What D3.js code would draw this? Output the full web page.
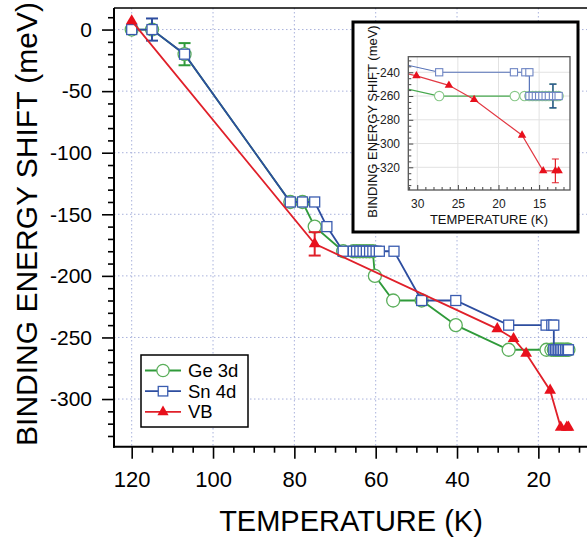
<!DOCTYPE html>
<html><head><meta charset="utf-8">
<script src="https://cdn.jsdelivr.net/npm/d3@7"></script>
<style>
body{margin:0;background:#fff;}
svg{display:block;font-family:"Liberation Sans",Arial,Helvetica,sans-serif;}
</style>
</head><body>
<svg id="c" width="587" height="538"></svg>
<script>
// ---------------- DATA ----------------
const seriesNames = ["Ge 3d", "Sn 4d", "VB"];

const tempGe  = [120, 115, 107, 81, 78, 75, 68, 65.5, 64.7, 63.9, 63.1, 62.3, 61.5, 60.7, 60.2, 55.7, 48.7, 40.3, 27.3,
                 18.0, 16.8, 16.2, 15.8, 15.4, 15.0, 14.6, 14.2, 13.8, 13.3, 12.9, 12.6];
const shiftGe = [0, 0, -20, -140, -140, -160, -180, -180, -180, -180, -180, -180, -180, -180, -200, -220, -220, -240, -260,
                 -260, -260, -260, -260, -260, -260, -260, -260, -260, -260, -260, -260];
const errGe   = [0, 0, 9, 0, 0, 0, 0, 0, 0, 0, 0, 0, 0, 0, 0, 0, 0, 0, 0,
                 0, 0, 0, 0, 0, 0, 0, 0, 0, 10, 0, 0];

const tempSn  = [120, 115, 107, 81, 78, 75, 72, 68, 65.5, 64.7, 63.9, 63.1, 62.3, 61.5, 60.7, 59.9, 59.1, 55.5, 48.7, 40.3,
                 27.3, 18.1, 16.7, 16.2, 16.2, 15.8, 15.4, 15.0, 14.6, 14.2, 13.8, 13.3, 12.9, 12.6];
const shiftSn = [0, 0, -20, -140, -140, -140, -160, -180, -180, -180, -180, -180, -180, -180, -180, -180, -180, -180, -220, -220,
                 -240, -240, -240, -240, -260, -260, -260, -260, -260, -260, -260, -260, -260, -260];
const errSn   = [0, 9, 0, 0, 0, 0, 0, 0, 0, 0, 0, 0, 0, 0, 0, 0, 0, 0, 0, 0,
                 0, 0, 0, 0, 0, 0, 0, 0, 0, 0, 0, 10, 0, 0];

const tempVB  = [120, 75, 30.1, 26.1, 23.0, 17.1, 14.5, 13.0, 12.6];
const shiftVB = [7, -174, -243, -251, -263, -293, -323, -323, -323];
const errVB   = [0, 9.5, 0, 0, 0, 0, 0, 10, 0];

const xTicks = [120, 100, 80, 60, 40, 20];
const yTicks = [0, -50, -100, -150, -200, -250, -300];
const insetXTicks = [30, 25, 20, 15];
const insetYTicks = [-240, -260, -280, -300, -320];

const xTitle = "TEMPERATURE (K)";
const yTitle = "BINDING ENERGY SHIFT (meV)";

// ---------------- SETUP ----------------
const svg = d3.select("#c");
const FONT = '"Liberation Sans",Arial,Helvetica,sans-serif';
const M = {left:114, right:590, top:8, bottom:446.7};
const x = d3.scaleLinear().domain([124.35, 7.3]).range([M.left, M.right]);
const y = d3.scaleLinear().domain([-338.7, 17.5]).range([M.bottom, M.top]);

const series = [
  {name: seriesNames[0], t: tempGe, v: shiftGe, e: errGe, marker: "circle",
   line: "#2f9a3a", mstroke: "#5aae5a", ilin: "#47a84e", imstroke: "#88c888"},
  {name: seriesNames[1], t: tempSn, v: shiftSn, e: errSn, marker: "square",
   line: "#2d4d9f", mstroke: "#3a5cb0", ilin: "#5672b8", imstroke: "#6f86c4"},
  {name: seriesNames[2], t: tempVB, v: shiftVB, e: errVB, marker: "triangle",
   line: "#e0202a", mstroke: "#e8101c", ilin: "#e23a44", imstroke: "#e8101c"}
];

function drawMarker(g, type, cx, cy, k, stroke, sw) {
  if (type === "circle") {
    g.append("circle").attr("cx", cx).attr("cy", cy).attr("r", 6.5 * k)
      .attr("fill", "#fff").attr("stroke", stroke).attr("stroke-width", sw);
  } else if (type === "square") {
    const s = 10 * k;
    g.append("rect").attr("x", cx - s / 2).attr("y", cy - s / 2).attr("width", s).attr("height", s)
      .attr("fill", "#fff").attr("stroke", stroke).attr("stroke-width", sw);
  } else {
    g.append("path").attr("d", d3.symbol(d3.symbolTriangle, 60 * k * k)())
      .attr("transform", `translate(${cx},${cy})`).attr("fill", stroke);
  }
}

// ---------------- GRID ----------------
const grid = svg.append("g");
grid.selectAll("line.gx").data(xTicks).join("line").attr("class", "gx")
  .attr("x1", d => x(d)).attr("x2", d => x(d)).attr("y1", M.top).attr("y2", M.bottom)
  .attr("stroke", "#a9b2dc").attr("stroke-width", 1).attr("stroke-dasharray", "1.5,2.5");
grid.selectAll("line.gy").data(yTicks).join("line").attr("class", "gy")
  .attr("y1", d => y(d)).attr("y2", d => y(d)).attr("x1", M.left).attr("x2", M.right)
  .attr("stroke", "#a9b2dc").attr("stroke-width", 1).attr("stroke-dasharray", "1.5,2.5");

// ---------------- AXES ----------------
const xMinor = d3.range(120, 7, -5).filter(v => !xTicks.includes(v));
const yMinor = d3.range(10, -340, -10).filter(v => !yTicks.includes(v));

function styleAxis(g, fs) {
  g.select(".domain").remove();
  g.selectAll(".tick line").attr("stroke", "#000").attr("stroke-width", 1.6);
  g.selectAll(".tick text").attr("fill", "#000").style("font-size", fs + "px").style("font-family", FONT);
}
svg.append("g").attr("transform", `translate(0,${M.bottom})`)
  .call(d3.axisBottom(x).tickValues(xMinor).tickSize(6).tickFormat(""))
  .call(g => styleAxis(g, 22));
svg.append("g").attr("transform", `translate(0,${M.bottom})`)
  .call(d3.axisBottom(x).tickValues(xTicks).tickSize(12).tickPadding(13).tickFormat(d => String(d)))
  .call(g => styleAxis(g, 22));
svg.append("g").attr("transform", `translate(${M.left},0)`)
  .call(d3.axisLeft(y).tickValues(yMinor).tickSize(6).tickFormat(""))
  .call(g => styleAxis(g, 21));
svg.append("g").attr("transform", `translate(${M.left},0)`)
  .call(d3.axisLeft(y).tickValues(yTicks).tickSize(12).tickPadding(10).tickFormat(d => String(d)))
  .call(g => styleAxis(g, 21));

// frame
svg.append("line").attr("x1", M.left).attr("x2", M.right).attr("y1", M.top).attr("y2", M.top)
  .attr("stroke", "#000").attr("stroke-width", 1.6);
svg.append("line").attr("x1", M.left).attr("x2", M.left).attr("y1", M.top).attr("y2", M.bottom + 1)
  .attr("stroke", "#000").attr("stroke-width", 2);
svg.append("line").attr("x1", M.left - 1).attr("x2", M.right).attr("y1", M.bottom).attr("y2", M.bottom)
  .attr("stroke", "#000").attr("stroke-width", 2);

// titles
svg.append("text").attr("x", 351).attr("y", 531).attr("text-anchor", "middle")
  .style("font-size", "29px").attr("fill", "#000").text(xTitle);
svg.append("text").attr("transform", "translate(37,224) rotate(-90)").attr("text-anchor", "middle")
  .style("font-size", "30px").attr("fill", "#000").text(yTitle);

// ---------------- SERIES ----------------
function drawSeries(root, xs, ys, opt) {
  series.forEach(s => {
    const pts = s.t.map((t, i) => ({t, v: s.v[i], e: s.e[i]}));
    const g = root.append("g");
    g.append("path").datum(pts)
      .attr("d", d3.line().x(d => xs(d.t)).y(d => ys(d.v)))
      .attr("fill", "none").attr("stroke", opt.inset ? s.ilin : s.line).attr("stroke-width", opt.lw);
    pts.filter(d => d.e > 0 && opt.showErr(d)).forEach(d => {
      const cx = xs(d.t), y1 = ys(d.v + d.e), y2 = ys(d.v - d.e);
      const col = s.line, cw = opt.cap;
      g.append("line").attr("x1", cx).attr("x2", cx).attr("y1", y1).attr("y2", y2).attr("stroke", col).attr("stroke-width", opt.ew);
      g.append("line").attr("x1", cx - cw).attr("x2", cx + cw).attr("y1", y1).attr("y2", y1).attr("stroke", col).attr("stroke-width", opt.ew);
      g.append("line").attr("x1", cx - cw).attr("x2", cx + cw).attr("y1", y2).attr("y2", y2).attr("stroke", col).attr("stroke-width", opt.ew);
    });
    pts.forEach(d => drawMarker(g, s.marker, xs(d.t), ys(d.v), opt.k,
      opt.inset ? s.imstroke : s.mstroke, opt.msw));
  });
}

const insetTDomain = [31.1, 11.2];
drawSeries(svg.append("g"), x, y, {
  inset: false, lw: 1.8, k: 1, msw: 1.3, ew: 2, cap: 6,
  showErr: d => d.t > insetTDomain[0]
});

// ---------------- LEGEND ----------------
const lg = svg.append("g");
lg.append("rect").attr("x", 141).attr("y", 355).attr("width", 107).attr("height", 72)
  .attr("fill", "#fff").attr("stroke", "#000").attr("stroke-width", 1.5);
series.forEach((s, i) => {
  const ly = 370.5 + i * 20.7;
  lg.append("line").attr("x1", 145).attr("x2", 181).attr("y1", ly).attr("y2", ly)
    .attr("stroke", s.line).attr("stroke-width", 1.8);
  drawMarker(lg, s.marker, 163, ly, 0.95, s.mstroke, 1.3);
  lg.append("text").attr("x", 188).attr("y", ly + 6.5).style("font-size", "18.5px").attr("fill", "#000").text(s.name);
});

// ---------------- INSET ----------------
const IB = {x: 353, y: 22, w: 225, h: 210};
const IP = {left: 408.3, right: 570, top: 56.7, bottom: 190};
const ix = d3.scaleLinear().domain(insetTDomain).range([IP.left, IP.right]);
const iy = d3.scaleLinear().domain([-339.1, -226.9]).range([IP.bottom, IP.top]);

const ig = svg.append("g");
ig.append("rect").attr("x", IB.x).attr("y", IB.y).attr("width", IB.w).attr("height", IB.h)
  .attr("fill", "#fff").attr("stroke", "#000").attr("stroke-width", 3);

ig.selectAll("line.igx").data(insetXTicks).join("line").attr("class", "igx")
  .attr("x1", d => ix(d)).attr("x2", d => ix(d)).attr("y1", IP.top).attr("y2", IP.bottom)
  .attr("stroke", "#e2e2e2").attr("stroke-width", 1);
ig.selectAll("line.igy").data(insetYTicks).join("line").attr("class", "igy")
  .attr("y1", d => iy(d)).attr("y2", d => iy(d)).attr("x1", IP.left).attr("x2", IP.right)
  .attr("stroke", "#e2e2e2").attr("stroke-width", 1);

svg.append("clipPath").attr("id", "iclip").append("rect")
  .attr("x", IP.left).attr("y", IP.top).attr("width", IP.right - IP.left).attr("height", IP.bottom - IP.top);
const idata = ig.append("g").attr("clip-path", "url(#iclip)");
drawSeries(idata, ix, iy, {
  inset: true, lw: 1.2, k: 0.72, msw: 1.1, ew: 1.2, cap: 3.5,
  showErr: d => true
});

const ixMinor = d3.range(31, 11, -1).filter(v => !insetXTicks.includes(v));
const iyMinor = d3.range(-230, -340, -5).filter(v => !insetYTicks.includes(v));
function styleInset(g) {
  g.select(".domain").remove();
  g.selectAll(".tick line").attr("stroke", "#444").attr("stroke-width", 1);
  g.selectAll(".tick text").attr("fill", "#222").style("font-size", "12px").style("font-family", FONT);
}
ig.append("g").attr("transform", `translate(0,${IP.bottom})`)
  .call(d3.axisBottom(ix).tickValues(ixMinor).tickSizeInner(-3).tickSizeOuter(0).tickFormat(""))
  .call(styleInset);
ig.append("g").attr("transform", `translate(0,${IP.bottom})`)
  .call(d3.axisBottom(ix).tickValues(insetXTicks).tickSizeInner(-5).tickSizeOuter(0).tickPadding(9.5).tickFormat(d => String(d)))
  .call(styleInset);
ig.append("g").attr("transform", `translate(${IP.left},0)`)
  .call(d3.axisLeft(iy).tickValues(iyMinor).tickSizeInner(-3).tickSizeOuter(0).tickFormat(""))
  .call(styleInset);
ig.append("g").attr("transform", `translate(${IP.left},0)`)
  .call(d3.axisLeft(iy).tickValues(insetYTicks).tickSizeInner(-5).tickSizeOuter(0).tickPadding(8.3).tickFormat(d => String(d)))
  .call(styleInset);
ig.append("rect").attr("x", IP.left).attr("y", IP.top).attr("width", IP.right - IP.left).attr("height", IP.bottom - IP.top)
  .attr("fill", "none").attr("stroke", "#555").attr("stroke-width", 1.3);

ig.append("text").attr("x", 489).attr("y", 223.5).attr("text-anchor", "middle")
  .style("font-size", "13px").attr("fill", "#111").text(xTitle);
ig.append("text").attr("transform", "translate(376.5,121.5) rotate(-90)").attr("text-anchor", "middle")
  .style("font-size", "13px").attr("fill", "#111").text(yTitle);
</script>
</body></html>
